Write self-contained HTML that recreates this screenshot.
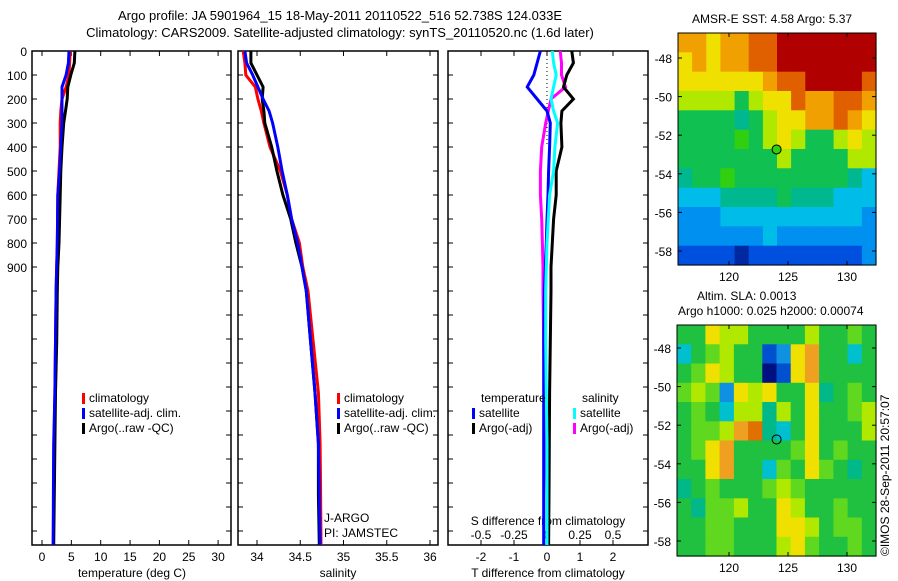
<!DOCTYPE html>
<html><head><meta charset="utf-8"><style>
body{margin:0;background:#fff;}
svg{display:block;font-family:"Liberation Sans",sans-serif;}
text{font-size:12px;fill:#000;}
</style></head><body>
<svg id="fig" width="898" height="581" viewBox="0 0 898 581">
<g>
<text x="340" y="20" text-anchor="middle" style="font-size:13px">Argo profile: JA 5901964_15 18-May-2011 20110522_516 52.738S 124.033E</text>
<text x="340" y="37" text-anchor="middle" style="font-size:13px">Climatology: CARS2009. Satellite-adjusted climatology: synTS_20110520.nc (1.6d later)</text>
</g>
<g id="p1"></g>
<g id="p2"></g>
<g id="p3"></g>
<g id="m1"></g>
<g id="m2"></g>
<text x="692" y="23">AMSR-E SST: 4.58 Argo: 5.37</text>
<text x="697" y="300">Altim. SLA: 0.0013</text>
<text x="678" y="315">Argo h1000: 0.025 h2000: 0.00074</text>
<text transform="translate(889,556) rotate(-90)">©IMOS 28-Sep-2011 20:57:07</text>
</svg>
<script>
const depths=[0,50,100,150,200,250,300,400,500,600,700,800,900,1000,1200,1400,1600,1800,2000];
const tempClim=[4.8,4.7,4.6,4.1,3.4,3.2,3.1,3.1,2.9,2.7,2.65,2.6,2.5,2.4,2.3,2.2,2.1,2.0,1.9];
const tempSat=[4.6,4.5,4.1,3.4,3.4,3.4,3.4,3.2,3.0,2.7,2.65,2.6,2.5,2.4,2.3,2.2,2.0,1.95,1.9];
const tempArgo=[5.6,5.5,4.9,4.4,4.3,4.0,3.7,3.4,3.2,3.1,3.0,2.9,2.7,2.6,2.5,2.3,2.2,2.1,2.0];
const salClim=[33.84,33.86,33.87,33.98,34.01,34.05,34.08,34.15,34.27,34.35,34.40,34.49,34.53,34.59,34.65,34.71,34.73,34.735,34.74];
const salSat=[33.86,33.88,33.95,34.01,34.07,34.14,34.18,34.24,34.29,34.35,34.40,34.47,34.52,34.57,34.62,34.67,34.71,34.72,34.73];
const salArgo=[33.93,33.93,34.0,34.07,34.06,34.08,34.09,34.17,34.23,34.30,34.39,34.45,34.52,34.57,34.62,34.67,34.71,34.71,34.72];
const dTsat=[-0.2,-0.3,-0.4,-0.6,-0.3,0,0.1,0.08,0.05,0.03,0,-0.02,-0.05,-0.08,-0.1,-0.1,-0.1,-0.1,-0.1];
const dTargo=[0.75,0.8,0.6,0.5,0.8,0.45,0.42,0.45,0.28,0.28,0.2,0.16,0.12,0.12,0.1,0.08,0.07,0.06,0.05];
const dSsat=[0.04,0.05,0.07,0.05,0.03,0.05,0.08,0.06,0.05,0.02,0.01,0.0,-0.005,-0.01,-0.01,-0.005,0,0,0];
const dSargo=[0.1,0.11,0.11,0.14,0.03,0.01,-0.01,-0.04,-0.05,-0.05,-0.04,-0.035,-0.03,-0.03,-0.025,-0.02,-0.01,0,0.01];
const depthTicks=[0,100,200,300,400,500,600,700,800,900];
const tempTicks=[0,5,10,15,20,25,30];
const salTicks=[34,34.5,35,35.5,36];
const salTickLabels=["34","34.5","35","35.5","36"];
const dTTicks=[-2,-1,0,1,2];
const dSTicks=[-0.5,-0.25,0,0.25,0.5];
const dSTickLabels=["-0.5","-0.25","0","0.25","0.5"];
const latTicks=[-48,-50,-52,-54,-56,-58];
const lonTicks=[120,125,130];
const argoLon=124.033, argoLat=-52.738;
const sstRows=["99899aabbbbbbb","89899aabbbbbbb","8888889aabbbba","77775788a99aa9","55554578899a98","55556578755787","55555557555577","45565555555543","33344445444333","22233333333332","22222232222222","11110111111112"];
const slaRows=["55877555575565","35675512895535","56875501895555","67628785584565","56537747585567","56679a43585557","56895555685655","55895536586545","45655567655555","54667558755655","55665558875665","55665557865565"];
const NS="http://www.w3.org/2000/svg";
function mk(parent,tag,attrs){const e=document.createElementNS(NS,tag);for(const k in attrs)e.setAttribute(k,attrs[k]);parent.appendChild(e);return e;}
const TOP=51,BOT=545;
function yD(d){return d<=1000?TOP+d*0.24:TOP+240+(d-1000)*0.254;}
function panel(g,x0,x1){
  const r=mk(g,'rect',{x:x0,y:TOP,width:x1-x0,height:BOT-TOP,fill:'none',stroke:'#000','stroke-width':1.5});
  
  
  for(let y=TOP;y<=BOT;y+=24){
    mk(g,'line',{x1:x0,x2:x0+5,y1:y,y2:y,stroke:'#000'});
    mk(g,'line',{x1:x1,x2:x1-5,y1:y,y2:y,stroke:'#000'});
  }
}
function series(g,vals,sx,color,name,w){
  let d='';vals.forEach((v,i)=>{d+=(i?'L':'M')+sx(v).toFixed(1)+','+yD(depths[i]).toFixed(1);});
  const p=mk(g,'path',{d:d,fill:'none',stroke:color,'stroke-width':w||3});
  
  
}
function xticks(g,ticks,labels,sx,ly,top){
  ticks.forEach((t,i)=>{const x=sx(t);
    mk(g,'line',{x1:x,x2:x,y1:BOT,y2:BOT-5,stroke:'#000'});
    if(top)mk(g,'line',{x1:x,x2:x,y1:TOP,y2:TOP+5,stroke:'#000'});
    const tx=mk(g,'text',{x:x,y:ly,'text-anchor':'middle'});tx.textContent=labels[i];
    
    
  });
}
function legend(g,x,y,items){
  items.forEach((it,i)=>{
    mk(g,'rect',{x:x,y:y+i*15-9,width:3,height:11,fill:it[1]});
    const t=mk(g,'text',{x:x+7,y:y+i*15});t.textContent=it[0];
    
    
  });
}
function txt(g,x,y,s,anchor,name){const t=mk(g,'text',{x:x,y:y,'text-anchor':anchor||'start'});t.textContent=s;
  
  return t;}
const p1=document.getElementById('p1');
const sT=v=>42+v*5.87;
panel(p1,32,231);
depthTicks.forEach(d=>{txt(p1,27,yD(d)+5,String(d),'end','y-tick-label');});
xticks(p1,tempTicks,tempTicks.map(String),sT,561,true);
series(p1,tempClim,sT,'#f00','temp-climatology-line');
series(p1,tempSat,sT,'#00f','temp-satellite-line');
series(p1,tempArgo,sT,'#000','temp-argo-line');
series(p1,tempSat,sT,'#00f','temp-satellite-line-top',2.5);
legend(p1,82,402,[['climatology','#f00'],['satellite-adj. clim.','#00f'],['Argo(..raw -QC)','#000']]);
txt(p1,132,577,'temperature (deg C)','middle','x-axis-title');
const p2=document.getElementById('p2');
const sS=v=>257+(v-34)*86.5;
panel(p2,238,438);
xticks(p2,salTicks,salTickLabels,sS,561,true);
series(p2,salClim,sS,'#f00','sal-climatology-line');
series(p2,salArgo,sS,'#000','sal-argo-line');
series(p2,salSat,sS,'#00f','sal-satellite-line');
legend(p2,337,402,[['climatology','#f00'],['satellite-adj. clim.','#00f'],['Argo(..raw -QC)','#000']]);
txt(p2,324,522,'J-ARGO','start','float-program');
txt(p2,324,537,'PI: JAMSTEC','start','float-pi');
txt(p2,338,577,'salinity','middle','x-axis-title');
const p3=document.getElementById('p3');
const sDT=v=>547+v*33, sDS=v=>547+v*132;
panel(p3,448,648);
mk(p3,'line',{x1:547,x2:547,y1:TOP,y2:yD(400),stroke:'#000','stroke-dasharray':'1,3'});
xticks(p3,dTTicks,dTTicks.map(String),sDT,561,true);
dSTicks.forEach((t,i)=>{txt(p3,sDS(t),539,dSTickLabels[i],'middle','s-tick-label');mk(p3,'line',{x1:sDS(t),x2:sDS(t),y1:BOT,y2:BOT-5,stroke:'#000'});});
txt(p3,548,525,'S difference from climatology','middle','s-axis-title');
series(p3,dSargo,sDS,'#f0f','sal-argo-diff-line');
series(p3,dTargo,sDT,'#000','temp-argo-diff-line');
series(p3,dTsat,sDT,'#00f','temp-satellite-diff-line');
series(p3,dSsat,sDS,'#0ff','sal-satellite-diff-line');
txt(p3,481,402,'temperature','start','legend-heading-temperature');
txt(p3,582,402,'salinity','start','legend-heading-salinity');
legend(p3,472,417,[['satellite','#00f'],['Argo(-adj)','#000']]);
legend(p3,573,417,[['satellite','#0ff'],['Argo(-adj)','#f0f']]);
txt(p3,548,577,'T difference from climatology','middle','x-axis-title');
const sstCol=['#0028a0','#0050e0','#0090f0','#00bce8','#00b890','#10c050','#30d010','#b0e800','#f0e000','#f0a000','#e06000','#b00000'];
const slaCol=['#001080','#0050d0','#1090e0','#00c0d0','#00b888','#20c040','#60d820','#b0e800','#f0e000','#f0a020','#e07000'];
function map(id,rows,cols,x0,y0,x1,y1,latTop){
  const g=document.getElementById(id);
  const nr=rows.length,nc=rows[0].length,cw=(x1-x0)/nc,ch=(y1-y0)/nr;
  rows.forEach((r,i)=>{for(let j=0;j<nc;j++){const v=parseInt(r[j],16);
    const c=mk(g,'rect',{x:(x0+j*cw).toFixed(1),y:(y0+i*ch).toFixed(1),width:(cw+0.6).toFixed(1),height:(ch+0.6).toFixed(1),fill:cols[v]});
    
    }});
  mk(g,'rect',{x:x0,y:y0,width:x1-x0,height:y1-y0,fill:'none',stroke:'#000'});
  const lonX=l=>729+(l-120)*11.8, latY=l=>latTop+(-48-l)*19.3;
  latTicks.forEach(l=>{const y=latY(l);mk(g,'line',{x1:x0,x2:x0+4,y1:y,y2:y,stroke:'#000'});mk(g,'line',{x1:x1,x2:x1-4,y1:y,y2:y,stroke:'#000'});
    txt(g,x0-6,y+5,String(l),'end','lat-tick-label');});
  lonTicks.forEach(l=>{const x=lonX(l);mk(g,'line',{x1:x,x2:x,y1:y0,y2:y0+4,stroke:'#000'});mk(g,'line',{x1:x,x2:x,y1:y1,y2:y1-4,stroke:'#000'});
    txt(g,x,y1+16,String(l),'middle','lon-tick-label');});
  const m=mk(g,'circle',{cx:lonX(argoLon),cy:latY(argoLat),r:4.5,fill:id==='m1'?'#30d010':'none',stroke:'#000'});
  
  
}
map('m1',sstRows,sstCol,678,33,876,265,58);
map('m2',slaRows,slaCol,677,325,876,556,348);
</script>
</body></html>
